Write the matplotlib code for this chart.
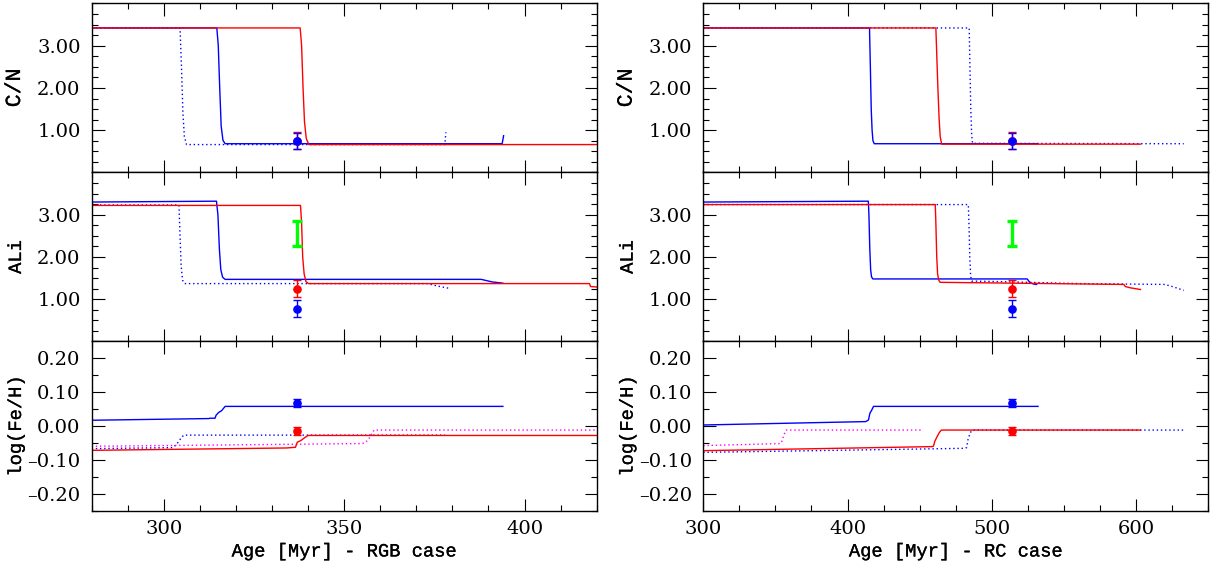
import matplotlib
matplotlib.use('Agg')
import matplotlib.pyplot as plt
import matplotlib.patheffects as pe
from matplotlib.ticker import MultipleLocator, FixedLocator, FuncFormatter

# ---------------- data : RGB case (left column) ----------------
cn_rgb_blue_solid_x = [280, 314.7, 315.1, 315.5, 315.9, 316.4, 317.0, 393.8, 394.2]
cn_rgb_blue_solid_y = [3.42, 3.42, 3.0, 2.0, 1.1, 0.76, 0.68, 0.68, 0.87]
cn_rgb_blue_dot_x = [280, 304.5, 304.9, 305.3, 305.7, 306.3, 377.9, 378.2]
cn_rgb_blue_dot_y = [3.42, 3.42, 2.5, 1.4, 0.85, 0.66, 0.66, 0.95]
cn_rgb_red_x = [280, 337.8, 338.2, 338.6, 339.0, 339.5, 340.2, 420]
cn_rgb_red_y = [3.42, 3.42, 3.0, 2.0, 1.2, 0.8, 0.66, 0.66]

ali_rgb_blue_solid_x = [280, 314.6, 315.0, 315.4, 315.8, 316.3, 317.0, 388, 391, 394]
ali_rgb_blue_solid_y = [3.30, 3.32, 3.0, 2.2, 1.7, 1.52, 1.47, 1.47, 1.41, 1.38]
ali_rgb_blue_dot_x = [280, 304.2, 304.5, 304.8, 305.2, 305.8, 373, 376, 379]
ali_rgb_blue_dot_y = [3.23, 3.23, 2.5, 1.8, 1.45, 1.37, 1.37, 1.31, 1.26]
ali_rgb_red_x = [280, 337.9, 338.2, 338.5, 338.9, 339.4, 340.1, 418, 418.3, 420]
ali_rgb_red_y = [3.22, 3.22, 2.8, 2.0, 1.6, 1.42, 1.37, 1.37, 1.30, 1.29]

fe_rgb_blue_solid_x = [280, 312.5, 312.8, 314.2, 314.5, 315.2, 316.0, 317.0, 394]
fe_rgb_blue_solid_y = [0.017, 0.022, 0.023, 0.023, 0.032, 0.040, 0.045, 0.058, 0.058]
fe_rgb_blue_dot_x = [280, 302.5, 303.5, 304.5, 305.5, 378]
fe_rgb_blue_dot_y = [-0.067, -0.064, -0.055, -0.040, -0.027, -0.027]
fe_rgb_mag_dot_x = [280, 355.0, 356.0, 357.0, 358.3, 420]
fe_rgb_mag_dot_y = [-0.060, -0.052, -0.048, -0.035, -0.012, -0.012]
fe_rgb_red_x = [280, 334.0, 336.5, 337.0, 338.0, 339.0, 340.0, 420]
fe_rgb_red_y = [-0.072, -0.065, -0.063, -0.048, -0.043, -0.035, -0.028, -0.028]

# ---------------- data : RC case (right column) ----------------
cn_rc_blue_solid_x = [300, 415.2, 415.8, 416.4, 417.0, 417.6, 418.5, 532]
cn_rc_blue_solid_y = [3.42, 3.42, 2.5, 1.5, 1.0, 0.75, 0.68, 0.68]
cn_rc_blue_dot_x = [300, 484.3, 484.8, 485.4, 486.0, 486.6, 633]
cn_rc_blue_dot_y = [3.42, 3.42, 2.5, 1.5, 0.9, 0.69, 0.68]
cn_rc_red_x = [300, 461.2, 461.8, 462.6, 463.4, 464.2, 465.2, 603]
cn_rc_red_y = [3.42, 3.42, 2.8, 2.0, 1.3, 0.85, 0.67, 0.67]

ali_rc_blue_solid_x = [300, 414.4, 414.8, 415.4, 416.0, 416.6, 417.5, 524.5, 526.5, 529, 531]
ali_rc_blue_solid_y = [3.30, 3.32, 3.0, 2.2, 1.7, 1.53, 1.48, 1.48, 1.39, 1.36, 1.35]
ali_rc_blue_dot_x = [300, 483.7, 484.2, 484.7, 485.3, 486.0, 525, 560, 620, 626, 633]
ali_rc_blue_dot_y = [3.24, 3.24, 2.7, 2.0, 1.55, 1.43, 1.40, 1.37, 1.35, 1.29, 1.21]
ali_rc_red_x = [300, 460.8, 461.2, 461.8, 462.4, 463.2, 464.2, 591.5, 592.5, 596, 603]
ali_rc_red_y = [3.24, 3.24, 2.8, 2.0, 1.6, 1.45, 1.40, 1.35, 1.30, 1.27, 1.23]

fe_rc_blue_solid_x = [300, 412.5, 413.5, 414.5, 415.5, 416.5, 418.0, 532]
fe_rc_blue_solid_y = [0.003, 0.013, 0.015, 0.018, 0.038, 0.045, 0.058, 0.058]
fe_rc_blue_dot_x = [300, 481.5, 482.5, 483.5, 485.0, 486.5, 633]
fe_rc_blue_dot_y = [-0.078, -0.066, -0.064, -0.040, -0.020, -0.012, -0.012]
fe_rc_mag_dot_x = [300, 353.5, 354.5, 356.0, 357.5, 452]
fe_rc_mag_dot_y = [-0.058, -0.052, -0.045, -0.025, -0.012, -0.012]
fe_rc_red_x = [300, 458.5, 459.5, 460.5, 462.0, 463.5, 465.0, 603]
fe_rc_red_y = [-0.073, -0.061, -0.060, -0.045, -0.032, -0.020, -0.012, -0.012]

# ---------------- observations ----------------
obs_age_rgb = 337
obs_age_rc = 514
obs_cn = 0.75
obs_cn_err = 0.20
obs_ali_red = 1.25
obs_ali_blue = 0.77
obs_ali_err = 0.20
obs_ali_green = 2.55
obs_ali_green_err = 0.30
obs_fe_blue = 0.068
obs_fe_blue_err = 0.011
obs_fe_red = -0.015
obs_fe_red_err = 0.012

xlims = [(280, 420), (300, 650)]
xlabels = ['Age [Myr] - RGB case', 'Age [Myr] - RC case']
ylabels = ['C/N', 'ALi', 'log(Fe/H)']
ylabel_sizes = [15.5, 13.5, 13.5]

BLUE = '#0000ff'
RED = '#ff0000'
MAG = '#ff00ff'
GREEN = '#00ff00'
DOT = (0, (1, 2))
LW = 1.0

fig = plt.figure(figsize=(12.14, 5.72), dpi=100)
col_x0 = [0.0755, 0.5793]
col_w = 0.416
row_y0 = [0.6985, 0.4030, 0.1075]
row_h = 0.2955

data = {
    0: {
        0: [(cn_rgb_blue_dot_x, cn_rgb_blue_dot_y, BLUE, DOT),
            (cn_rgb_blue_solid_x, cn_rgb_blue_solid_y, BLUE, '-'),
            (cn_rgb_red_x, cn_rgb_red_y, RED, '-')],
        1: [(ali_rgb_blue_dot_x, ali_rgb_blue_dot_y, BLUE, DOT),
            (ali_rgb_blue_solid_x, ali_rgb_blue_solid_y, BLUE, '-'),
            (ali_rgb_red_x, ali_rgb_red_y, RED, '-')],
        2: [(fe_rgb_blue_dot_x, fe_rgb_blue_dot_y, BLUE, DOT),
            (fe_rgb_mag_dot_x, fe_rgb_mag_dot_y, MAG, DOT),
            (fe_rgb_blue_solid_x, fe_rgb_blue_solid_y, BLUE, '-'),
            (fe_rgb_red_x, fe_rgb_red_y, RED, '-')],
    },
    1: {
        0: [(cn_rc_blue_dot_x, cn_rc_blue_dot_y, BLUE, DOT),
            (cn_rc_blue_solid_x, cn_rc_blue_solid_y, BLUE, '-'),
            (cn_rc_red_x, cn_rc_red_y, RED, '-')],
        1: [(ali_rc_blue_dot_x, ali_rc_blue_dot_y, BLUE, DOT),
            (ali_rc_blue_solid_x, ali_rc_blue_solid_y, BLUE, '-'),
            (ali_rc_red_x, ali_rc_red_y, RED, '-')],
        2: [(fe_rc_blue_dot_x, fe_rc_blue_dot_y, BLUE, DOT),
            (fe_rc_mag_dot_x, fe_rc_mag_dot_y, MAG, DOT),
            (fe_rc_blue_solid_x, fe_rc_blue_solid_y, BLUE, '-'),
            (fe_rc_red_x, fe_rc_red_y, RED, '-')],
    },
}

tick_family = 'DejaVu Serif'
tick_size = 14
label_family = 'Liberation Mono'
bold_fx = [pe.withStroke(linewidth=0.2, foreground='black')]


def yfmt(v, pos):
    s = '%.2f' % abs(v)
    if v < -1e-9:
        s = '\u2013' + s
    return s


for c in range(2):
    xo = obs_age_rgb if c == 0 else obs_age_rc
    for r in range(3):
        ax = fig.add_axes([col_x0[c], row_y0[r], col_w, row_h])
        for xs, ys, col, ls in data[c][r]:
            ax.plot(xs, ys, color=col, ls=ls, lw=LW)
        ekw = dict(fmt='o', ms=5.2, elinewidth=1.0, capsize=3.2, capthick=1.0)
        if r == 0:
            ax.errorbar([xo], [obs_cn], yerr=[obs_cn_err], color=RED, mec=RED, **ekw)
            ax.errorbar([xo], [obs_cn], yerr=[obs_cn_err * 0.93], color=BLUE, mec=BLUE, **ekw)
        elif r == 1:
            ax.errorbar([xo], [obs_ali_green], yerr=[obs_ali_green_err], fmt='none',
                        ecolor=GREEN, elinewidth=2.4, capsize=3.4, capthick=2.4)
            ax.errorbar([xo], [obs_ali_red], yerr=[obs_ali_err], color=RED, mec=RED, **ekw)
            ax.errorbar([xo], [obs_ali_blue], yerr=[obs_ali_err], color=BLUE, mec=BLUE, **ekw)
        else:
            ax.errorbar([xo], [obs_fe_blue], yerr=[obs_fe_blue_err], color=BLUE, mec=BLUE, **ekw)
            ax.errorbar([xo], [obs_fe_red], yerr=[obs_fe_red_err], color=RED, mec=RED, **ekw)

        ax.set_xlim(*xlims[c])
        if c == 0:
            ax.xaxis.set_major_locator(MultipleLocator(50))
            ax.xaxis.set_minor_locator(MultipleLocator(10))
        else:
            ax.xaxis.set_major_locator(MultipleLocator(100))
            ax.xaxis.set_minor_locator(MultipleLocator(25))
        if r < 2:
            ax.set_ylim(0, 4)
            ax.yaxis.set_major_locator(FixedLocator([1, 2, 3]))
            ax.yaxis.set_minor_locator(MultipleLocator(0.25))
        else:
            ax.set_ylim(-0.25, 0.25)
            ax.yaxis.set_major_locator(FixedLocator([-0.2, -0.1, 0.0, 0.1, 0.2]))
            ax.yaxis.set_minor_locator(MultipleLocator(0.05))
        ax.yaxis.set_major_formatter(FuncFormatter(yfmt))
        ax.tick_params(which='both', direction='in', top=True, right=True, width=0.8)
        ax.tick_params(which='major', length=9)
        ax.tick_params(which='minor', length=4.5)
        ax.tick_params(axis='y', pad=8)
        ax.tick_params(axis='x', pad=7)
        for lab in ax.get_xticklabels() + ax.get_yticklabels():
            lab.set_fontfamily(tick_family)
            lab.set_fontsize(tick_size)
        if r < 2:
            ax.tick_params(axis='x', labelbottom=False)
        else:
            xl = ax.set_xlabel(xlabels[c], family=label_family, size=13.5)
            xl.set_path_effects(bold_fx)
            ax.xaxis.set_label_coords(0.5, -0.195)
        yl = ax.set_ylabel(ylabels[r], family=label_family, size=ylabel_sizes[r])
        yl.set_path_effects(bold_fx)
        ax.yaxis.set_label_coords(-0.132, 0.5)
        for sp in ax.spines.values():
            sp.set_linewidth(1.0)

fig.savefig('out.png', dpi=100)
